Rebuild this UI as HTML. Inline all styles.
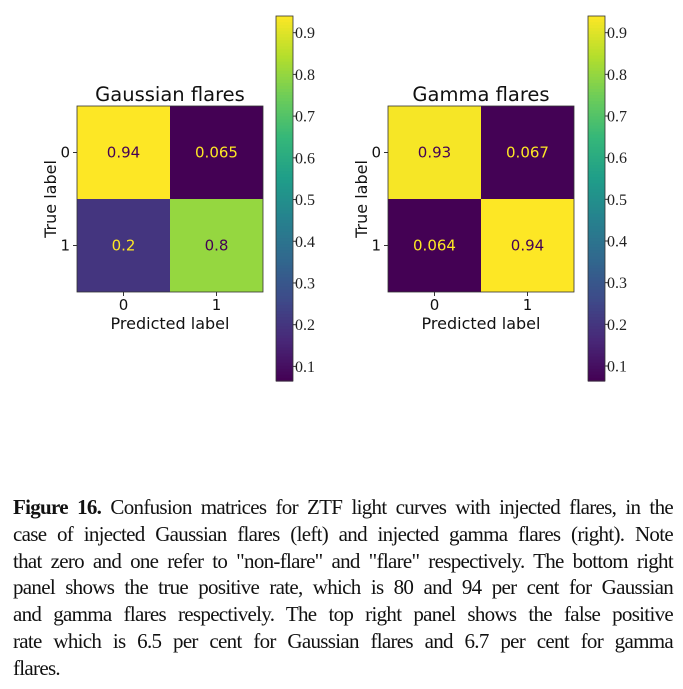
<!DOCTYPE html>
<html><head><meta charset="utf-8"><style>
body{margin:0;background:#fff;width:683px;height:689px;overflow:hidden;position:relative}
svg{position:absolute;left:0;top:0}
#cap{position:absolute;left:13px;top:494px;width:660px;font-family:"Liberation Serif",serif;font-size:21px;line-height:26.8px;color:#111;letter-spacing:-0.7px}
#cap div{text-align:justify;text-align-last:justify;white-space:nowrap;overflow:visible}
#cap div.last{text-align-last:left}
</style></head><body>
<svg id="fig" width="683" height="480" xmlns="http://www.w3.org/2000/svg"></svg>
<div id="cap">
<div><b>Figure 16.</b> Confusion matrices for ZTF light curves with injected flares, in the</div>
<div>case of injected Gaussian flares (left) and injected gamma flares (right). Note</div>
<div>that zero and one refer to "non-flare" and "flare" respectively. The bottom right</div>
<div>panel shows the true positive rate, which is 80 and 94 per cent for Gaussian</div>
<div>and gamma flares respectively. The top right panel shows the false positive</div>
<div>rate which is 6.5 per cent for Gaussian flares and 6.7 per cent for gamma</div>
<div class="last">flares.</div>
</div>
<script>
const titles=["Gaussian flares","Gamma flares"];
const gaussVals=[[0.94,0.065],[0.2,0.8]];
const gaussLabels=[["0.94","0.065"],["0.2","0.8"]];
const gammaVals=[[0.93,0.067],[0.064,0.94]];
const gammaLabels=[["0.93","0.067"],["0.064","0.94"]];
const classTicks=["0","1"];
const cbTicks=[0.1,0.2,0.3,0.4,0.5,0.6,0.7,0.8,0.9];
const cbTickLabels=["0.1","0.2","0.3","0.4","0.5","0.6","0.7","0.8","0.9"];

const NS="http://www.w3.org/2000/svg";
const svg=document.getElementById('fig');
const VIR=[[68,1,84],[72,40,120],[62,74,137],[49,104,142],[38,130,142],[31,158,137],[53,183,121],[109,205,89],[180,222,44],[253,231,37]];
function viridis(t){t=Math.max(0,Math.min(1,t));const p=t*9,i=Math.min(8,Math.floor(p)),f=p-i;
 const c=VIR[i].map((v,k)=>Math.round(v+(VIR[i+1][k]-v)*f));return `rgb(${c})`;}
function el(tag,a,txt){const e=document.createElementNS(NS,tag);for(const k in a)e.setAttribute(k,a[k]);if(txt!==undefined)e.textContent=txt;svg.appendChild(e);return e;}
const F='"DejaVu Sans",sans-serif';
function panel(px,title,vals,labels,cbx){
 const all=vals.flat();const vmin=Math.min(...all),vmax=Math.max(...all);
 const x0=px,y0=106,size=186,cell=size/2;
 const xs=i=>x0+i*cell, ys=j=>y0+j*cell;
 for(let r=0;r<2;r++)for(let c=0;c<2;c++){
  const t=(vals[r][c]-vmin)/(vmax-vmin);
  const rc=el('rect',{x:xs(c),y:ys(r),width:cell,height:cell,fill:viridis(t)});
  
  
  const tx=el('text',{x:xs(c)+cell/2,y:ys(r)+cell/2+5,'text-anchor':'middle','font-family':F,'font-size':15,fill:t>0.5?'#440154':'#fde725'},labels[r][c]);
  
  
 }
 el('rect',{x:x0,y:y0,width:size,height:size,fill:'none',stroke:'#333','stroke-width':0.8});
 const tt=el('text',{x:x0+size/2,y:101,'text-anchor':'middle','font-family':F,'font-size':19.5,fill:'#111'},title);
 
 
 classTicks.forEach((lb,i)=>{
  el('line',{x1:xs(i)+cell/2,x2:xs(i)+cell/2,y1:y0+size,y2:y0+size+4,stroke:'#333'});
  const a=el('text',{x:xs(i)+cell/2,y:y0+size+18,'text-anchor':'middle','font-family':F,'font-size':15,fill:'#111'},lb);
  
  
  el('line',{x1:x0-4,x2:x0,y1:ys(i)+cell/2,y2:ys(i)+cell/2,stroke:'#333'});
  const b=el('text',{x:x0-7,y:ys(i)+cell/2+5,'text-anchor':'end','font-family':F,'font-size':15,fill:'#111'},lb);
  
  
 });
 const xl=el('text',{x:x0+size/2,y:329,'text-anchor':'middle','font-family':F,'font-size':16,fill:'#111'},'Predicted label');
 
 
 const yl=el('text',{x:0,y:0,transform:`translate(${x0-21},${y0+size/2}) rotate(-90)`,'text-anchor':'middle','font-family':F,'font-size':16,fill:'#111'},'True label');
 
 
 const cy0=16,cy1=381,cw=17,N=120;
 const cbY=v=>cy1-(v-vmin)/(vmax-vmin)*(cy1-cy0);
 for(let k=0;k<N;k++){
  el('rect',{x:cbx,y:cy0+(cy1-cy0)*k/N,width:cw,height:(cy1-cy0)/N+0.6,fill:viridis(1-(k+0.5)/N)});
 }
 const cb=el('rect',{x:cbx,y:cy0,width:cw,height:cy1-cy0,fill:'none',stroke:'#333','stroke-width':0.8});
 
 
 cbTicks.forEach((v,i)=>{const y=cbY(v);if(y<cy0||y>cy1)return;
  el('line',{x1:cbx+cw,x2:cbx+cw+3,y1:y,y2:y,stroke:'#333'});
  const t=el('text',{x:cbx+cw+2,y:y+5.5,'font-family':'"Liberation Serif",serif','font-size':16,fill:'#222'},cbTickLabels[i]);
  
  
 });
}
panel(77,titles[0],gaussVals,gaussLabels,276);
panel(388,titles[1],gammaVals,gammaLabels,588);
</script>
</body></html>
